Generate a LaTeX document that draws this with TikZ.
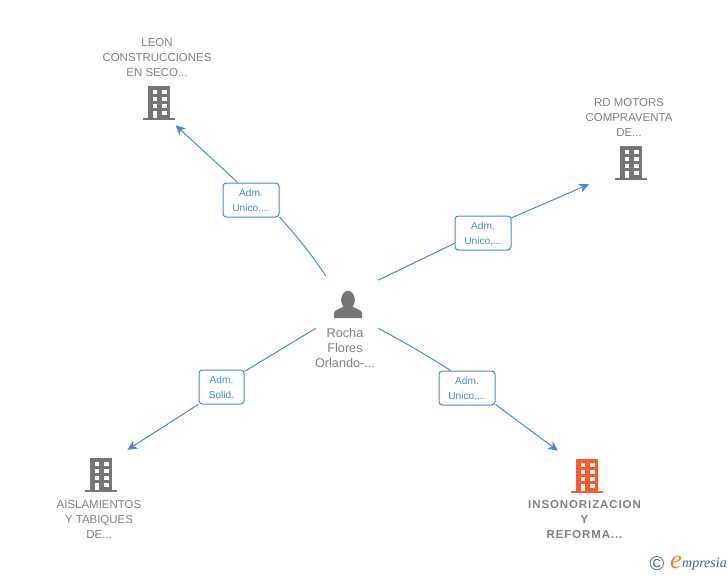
\documentclass[tikz,border=0pt]{standalone}
\usepackage{fontspec}
\setmainfont{Liberation Sans}
\newfontfamily\logofont{Liberation Serif}
\usetikzlibrary{arrows.meta}
\definecolor{linkblue}{HTML}{4287E3}
\definecolor{iconGrey}{HTML}{757575}
\definecolor{textGrey}{HTML}{808080}
\definecolor{iconOrange}{HTML}{FF5A2C}
\definecolor{logoTeal}{HTML}{2F6F80}
\tikzset{
  bldgnode/.style={minimum width=24pt,minimum height=25.5pt,inner sep=0pt},
  personnode/.style={minimum width=46.5pt,minimum height=39pt,inner sep=0pt},
  nametext/.style={text=textGrey,font=\fontsize{8.6}{11.25}\selectfont,align=center,inner sep=0pt},
  roletag/.style={draw=linkblue,fill=white,rounded corners=2.5pt,text=linkblue,line width=.75pt,
    font=\fontsize{7.6}{11.25}\selectfont,align=center,inner sep=0pt,minimum height=25.5pt,text depth=0pt},
  rolelink/.style={draw=linkblue,line width=.75pt},
  arrowlink/.style={-{Stealth[length=7.5pt,width=7pt]}},
  pics/block/.style={code={
    \fill[#1] (-11,-17) rectangle (11,15);
    \fill[#1] (-16,14.5) rectangle (16,17);
    \foreach \wy in {-13,-6,1} {
      \fill[white] (-6.5,\wy) rectangle (-2,\wy+4);
      \fill[white] (2.5,\wy) rectangle (7.5,\wy+4);
    }
    \fill[white] (-6.5,7.5) rectangle (-2,14.5);
    \fill[white] (2.5,7.5) rectangle (7.5,11.5);
  }}
}
\begin{document}
\begin{tikzpicture}[x=.75pt,y=-.75pt]
  \useasboundingbox (0,0) rectangle (728,575);
  \draw
    (159,103) node[bldgnode] (leon){}
    (631,163) node[bldgnode] (rd){}
    (101,475) node[bldgnode] (aisl){}
    (587,476) node[bldgnode] (inso){}
    (347,302) node[personnode] (rocha){};
  \pic at (159,103) {block=iconGrey};
  \pic at (631,163) {block=iconGrey};
  \pic at (101,475) {block=iconGrey};
  \pic at (587,476) {block=iconOrange};
  % person icon
  \fill[iconGrey] (348,300) ellipse (6.8 and 9.2);
  \fill[iconGrey] (334,318) -- (334,313) .. controls (335,309) and (341,309) .. (344,306)
    -- (352,306) .. controls (355,309) and (361,309) .. (362,313) -- (362,318) -- cycle;
  \draw
    (157,57.4) node[nametext] (leonname){LEON\\CONSTRUCCIONES\\EN SECO...}
    (629,117.4) node[nametext] (rdname){RD MOTORS\\COMPRAVENTA\\DE...}
    (345,347.5) node[nametext,font=\fontsize{9.5}{11.25}\selectfont] (rochaname){Rocha\\Flores\\Orlando-...}
    (99,519.4) node[nametext] (aislname){AISLAMIENTOS\\Y TABIQUES\\DE...}
    (584.5,519.4) node[nametext,font=\fontsize{8.6}{11.25}\selectfont\bfseries\addfontfeatures{LetterSpace=8}] (insoname){INSONORIZACION\\Y\\REFORMA...};
  \draw
    (251,200) node[roletag,minimum width=42pt] (leonrole){Adm.\\Unico,...}
    (483,233) node[roletag,minimum width=42pt] (rdrole){Adm.\\Unico,...}
    (221.5,387) node[roletag,minimum width=33.75pt] (aislrole){Adm.\\Solid.}
    (467,388) node[roletag,minimum width=42pt] (insorole){Adm.\\Unico,...};
  \begin{scope}[rolelink]
    \draw (rocha.129) to[bend right=4] (leonrole.-31);
    \draw (rocha.35) to (rdrole.200);
    \draw (rocha.south west) to (aislrole.34);
    \draw (rocha.south east) to[bend left=2] (insorole.133);
    \draw[arrowlink,shorten >=5.5pt] (leonrole.127) to (leon.-57);
    \draw[arrowlink,shorten >=21pt] (rdrole.28) to (rd.-148);
    \draw[arrowlink,shorten >=11pt] (aislrole.217) to (aisl.51);
    \draw[arrowlink,shorten >=12pt] (insorole.-30) to (inso.136);
  \end{scope}
  % logo
  \node[text=logoTeal,font=\fontsize{15}{15}\selectfont,inner sep=0pt] (copyr) at (657,563.5) {\textcopyright};
  \node[text=logoTeal,font=\fontsize{10.5}{11}\logofont\itshape,inner sep=0pt] (logotext) at (704.5,564) {mpresia};
  \node[text=iconOrange!80!yellow,font=\fontsize{20}{20}\logofont\itshape,inner sep=0pt] (logoe) at (676,562) {e};
\end{tikzpicture}
\end{document}
